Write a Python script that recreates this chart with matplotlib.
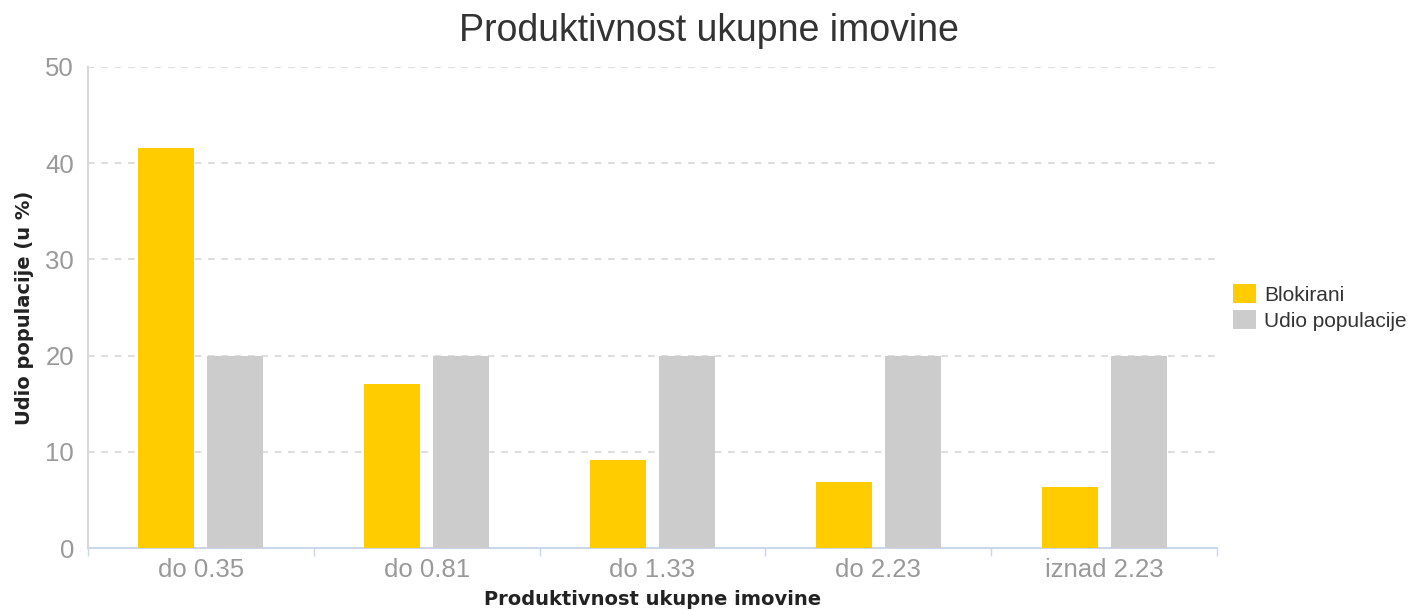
import matplotlib
matplotlib.use("Agg")
import matplotlib.pyplot as plt
import numpy as np

categories = ["do 0.35", "do 0.81", "do 1.33", "do 2.23", "iznad 2.23"]
blokirani = [41.6, 17.0, 9.1, 6.9, 6.3]
udio = [20.0, 20.0, 20.0, 20.0, 20.0]
series_names = ["Blokirani", "Udio populacije"]
colors = ["#ffcc00", "#cccccc"]
yticks = [0, 10, 20, 30, 40, 50]

plt.rcParams['font.family'] = ['Liberation Sans', 'DejaVu Sans']

fig = plt.figure(figsize=(14.15, 6.1), dpi=100)
ax = fig.add_axes([88/1415, 62/610, (1217-88)/1415, (548-67)/610])

x = np.arange(len(categories))
w = 0.248
off = 0.153
ax.bar(x - off, blokirani, width=w, color=colors[0], label=series_names[0], zorder=3)
ax.bar(x + off, udio, width=w, color=colors[1], label=series_names[1], zorder=3)

ax.set_xlim(-0.5, len(categories) - 0.5)
ax.set_ylim(0, 50)
ax.set_yticks(yticks)
ax.set_xticks(x)
ax.set_xticklabels(categories)
ax.set_xticks(np.arange(-0.5, len(categories)), minor=True)
ax.tick_params(axis='x', which='major', length=0, pad=7, labelsize=18.5, labelcolor='#999999')
ax.tick_params(axis='x', which='minor', length=6, color='#ccd6eb', width=1)
ax.tick_params(axis='y', length=0, pad=10, labelsize=18.5, labelcolor='#999999')

ax.yaxis.grid(True, linestyle=(0, (4, 4)), color='#d8d8d8', linewidth=1.2, zorder=0)
for s in ['top', 'right']:
    ax.spines[s].set_visible(False)
ax.spines['left'].set_color('#d8d8d8')
ax.spines['left'].set_linewidth(1.5)
ax.spines['bottom'].set_color('#ccd6eb')
ax.spines['bottom'].set_linewidth(1.5)

ax.set_xlabel("Produktivnost ukupne imovine", fontsize=14, fontweight='bold', color='#222222',
              labelpad=6, family=['DejaVu Sans'])
ax.set_ylabel("Udio populacije (u %)", fontsize=14, fontweight='bold', color='#222222',
              labelpad=8, family=['DejaVu Sans'])
fig.text(709/1415, 1 - 31/610, "Produktivnost ukupne imovine", ha='center', va='center',
         fontsize=27, color='#333333')

leg = ax.legend(loc='center left', bbox_to_anchor=(1.0, 0.5), frameon=False, fontsize=15,
                handlelength=1.1, handleheight=1.0, handletextpad=0.4, labelspacing=0.25,
                labelcolor='#333333', borderaxespad=0.35)

fig.savefig("out.png", dpi=100)
